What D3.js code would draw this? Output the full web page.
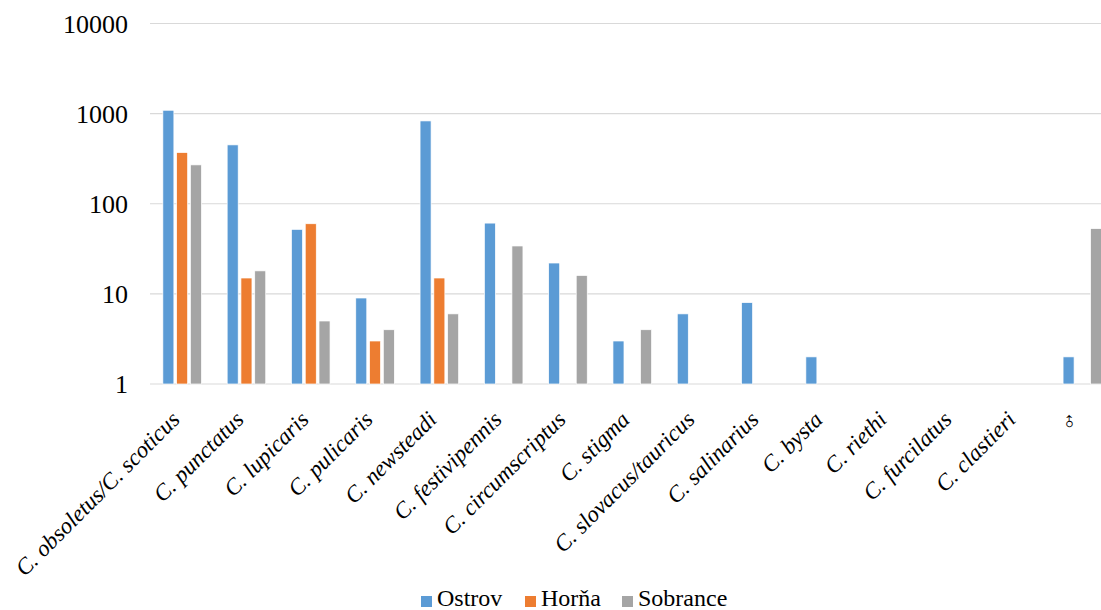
<!DOCTYPE html>
<html>
<head>
<meta charset="utf-8">
<script src="https://cdn.jsdelivr.net/npm/d3@7/dist/d3.min.js"></script>
<style>
  html, body { margin: 0; padding: 0; background: #fff; overflow: hidden; }
  #wrap { position: relative; width: 1101px; height: 610px; overflow: hidden; }
  svg { display: block; position: absolute; left: 0; top: 0; }
  .lbl { position: absolute; font-family: "Liberation Serif", "Times New Roman", serif; color: #000; white-space: nowrap; line-height: 1; }
  .rot { position: absolute; width: 0; height: 0; transform: rotate(-45deg); transform-origin: 0 0; }
  .rot span { position: absolute; right: 0; bottom: -0.16em; font-family: "Liberation Serif", "Times New Roman", serif; font-style: italic; font-size: 23px; line-height: 1; white-space: nowrap; color: #000; }
</style>
</head>
<body>
<div id="wrap">
  <svg id="chart" width="1101" height="610"></svg>
</div>
<script>
// Species (x categories)
const categories = [
  "C. obsoletus/C. scoticus", "C. punctatus", "C. lupicaris", "C. pulicaris",
  "C. newsteadi", "C. festivipennis", "C. circumscriptus", "C. stigma",
  "C. slovacus/tauricus", "C. salinarius", "C. bysta", "C. riethi",
  "C. furcilatus", "C. clastieri", "\u2642"
];
// Sites (series)
const series = ["Ostrov", "Horňa", "Sobrance"];
const colors = ["#5B9BD5", "#ED7D31", "#A5A5A5"];
// Counts per site, aligned with categories (null = no bar)
const ostrov   = [1090, 450, 52, 9, 830, 61, 22, 3, 6, 8, 2, null, null, null, 2];
const horna    = [370, 15, 60, 3, 15, null, null, null, null, null, null, null, null, null, null];
const sobrance = [270, 18, 5, 4, 6, 34, 16, 4, null, null, null, null, null, null, 53];
const yTicks = [1, 10, 100, 1000, 10000];

const values = [ostrov, horna, sobrance];
const wrap = d3.select("#wrap");
const svg = d3.select("#chart");

const plotLeft = 150, plotRight = 1114.5, plotTop = 23.5, plotBottom = 384;

const x0 = d3.scaleBand().domain(categories).range([plotLeft, plotRight]);
const bw = x0.bandwidth();
const x1 = d3.scaleBand().domain(series).range([bw * 0.2, bw * 0.8]).paddingInner(0.2);
const y = d3.scaleLog().domain([1, 10000]).range([plotBottom, plotTop]);

// Horizontal gridlines
svg.append("g")
  .selectAll("line")
  .data(yTicks)
  .join("line")
  .attr("x1", plotLeft).attr("x2", plotRight)
  .attr("y1", d => y(d)).attr("y2", d => y(d))
  .attr("stroke", "#d9d9d9").attr("stroke-width", 1.2);

// Y axis labels (right-aligned, centred on each gridline)
wrap.selectAll("div.ytick")
  .data(yTicks)
  .join("div")
  .attr("class", "lbl ytick")
  .style("font-size", "26px")
  .style("right", `${1101 - (plotLeft - 22)}px`)
  .style("top", d => `${y(d) - 13 + 1}px`)
  .text(d3.format("d"));

// Bars
const groups = svg.append("g")
  .selectAll("g")
  .data(categories)
  .join("g")
  .attr("transform", d => `translate(${x0(d)},0)`);

groups.selectAll("rect")
  .data((c, i) => series.map((s, k) => ({ s, k, v: values[k][i] })).filter(d => d.v != null && d.v > 1))
  .join("rect")
  .attr("x", d => x1(d.s))
  .attr("width", x1.bandwidth())
  .attr("y", d => y(d.v))
  .attr("height", d => y(1) - y(d.v))
  .attr("fill", d => colors[d.k])
  .attr("stroke", "#fff")
  .attr("stroke-width", 0.7);

// Category labels: rotated -45°, text end anchored below each group
wrap.selectAll("div.rot")
  .data(categories)
  .join("div")
  .attr("class", "rot")
  .style("left", d => `${x0(d) + bw / 2 - 1}px`)
  .style("top", `${plotBottom + 37}px`)
  .append("span")
  .text(d => d);

// Legend
const legendX = [421, 525, 622];
const legend = wrap.selectAll("div.leg")
  .data(series)
  .join("div")
  .attr("class", "leg")
  .style("position", "absolute")
  .style("left", (d, i) => `${legendX[i]}px`)
  .style("top", "596px");
legend.append("div")
  .style("position", "absolute")
  .style("left", "0px").style("top", "0px")
  .style("width", "11px").style("height", "11px")
  .style("background", (d, i) => colors[i]);
legend.append("div")
  .attr("class", "lbl")
  .style("left", "16px")
  .style("top", "-10px")
  .style("font-size", "24px")
  .text(d => d);
</script>
</body>
</html>
